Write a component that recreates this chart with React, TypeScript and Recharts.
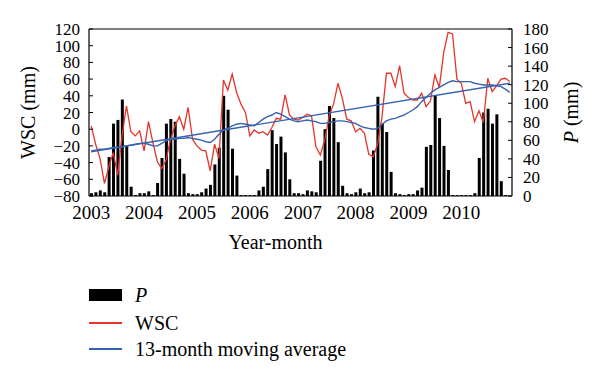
import {
  ComposedChart,
  Bar,
  Line,
  XAxis,
  YAxis,
  ReferenceLine,
} from "recharts";

const years = [2003, 2004, 2005, 2006, 2007, 2008, 2009, 2010];

// monthly precipitation P (mm), right axis
const pValues = [
  3, 4, 6, 4, 42, 78, 82, 104, 54, 10, 1, 3,
  3, 5, 1, 14, 41, 78, 83, 80, 40, 24, 3, 2,
  2, 4, 8, 12, 34, 52, 108, 93, 51, 22, 1, 1,
  1, 1, 6, 10, 29, 71, 56, 64, 47, 18, 3, 3,
  2, 6, 5, 4, 38, 72, 97, 84, 58, 11, 3, 2,
  4, 8, 3, 4, 49, 107, 78, 69, 26, 3, 2, 1,
  2, 2, 6, 9, 53, 55, 108, 84, 54, 28, 1, 1,
  1, 1, 1, 3, 41, 90, 94, 78, 88, 16, 1, 0,
];

// WSC (mm), left axis
const wscValues = [
  4, -18, -35, -65, -45, -28, -55, -8, 28, -3, -8, -2,
  -26, 9, -16, -39, -47, -37, -12, 4, 15, 0, 26, -12,
  -20, -25, -26, -50, -18, -35, 59, 47, 66, 44, 30, 20,
  -8, -1, -5, -3, -7, 2, 13, 12, 41, 17, 12, 11,
  14, 18, 16, -21, -31, -13, 16, 30, 55, 37, 12, 10,
  -3, 1, -5, -30, -33, -18, 15, 67, 67, 51, 76, 43,
  38, 35, 35, 43, 27, 34, 65, 50, 92, 116, 114, 60,
  55, 31, 33, 9, 22, 8, 61, 45, 52, 60, 61, 57,
];

// 13-month moving average of WSC
const maValues = [
  -26, -25, -24, -24, -23, -22, -22, -21, -20, -19, -18, -17,
  -17, -18, -20, -20, -17, -14, -12, -12, -11, -11, -10, -11,
  -12, -13, -15, -16, -12, -6, -1, 1, 4, 6, 7, 6,
  5, 4, 8, 12, 15, 17, 20, 18, 15, 12, 10, 9,
  10, 11, 10, 9, 7, 7, 8, 9, 10, 10, 9, 8,
  7, 4, 2, 1, 0, 1, 6, 10, 12, 13, 15, 17,
  20, 23, 27, 33, 38, 43, 47, 50, 53, 56, 58, 57,
  57, 57, 57, 55, 54, 53, 53, 53, 52, 51, 48, 44,
];

// straight trend line, first and last month
const trendStart = -27;
const trendEnd = 55;

const wscTicks = [-80, -60, -40, -20, 0, 20, 40, 60, 80, 100, 120];
const pTicks = [0, 20, 40, 60, 80, 100, 120, 140, 160, 180];

const months = years.flatMap((y) =>
  Array.from({ length: 12 }, (_, m) => `${y}-${String(m + 1).padStart(2, "0")}`)
);
const yearTicks = years.map((y) => `${y}-01`);

const data = months.map((month, i) => ({
  month,
  p: pValues[i],
  wsc: wscValues[i],
  ma: maValues[i],
  trend: i === 0 ? trendStart : i === months.length - 1 ? trendEnd : null,
}));

const FONT = "'Liberation Serif', 'Times New Roman', serif";
const RED = "#e5342c";
const BLUE = "#3762b0";

const fmtWsc = (v: number) => (v < 0 ? `\u2212${Math.abs(v)}` : `${v}`);

function RotLabel({ viewBox, x0, italic, rest }: any) {
  const cy = viewBox ? viewBox.y + viewBox.height / 2 : 104;
  return (
    <text
      x={x0}
      y={cy}
      transform={`rotate(-90, ${x0}, ${cy})`}
      textAnchor="middle"
      dominantBaseline="central"
      fontFamily={FONT}
      fontSize={20}
      fill="#000"
    >
      {italic && <tspan fontStyle="italic">{italic}</tspan>}
      <tspan>{rest}</tspan>
    </text>
  );
}

function LegendRow({ top, kind, color, label, italic }: any) {
  return (
    <div style={{ position: "absolute", left: 81, top, height: 20, display: "flex", alignItems: "center" }}>
      {kind === "bar" ? (
        <div style={{ width: 33, height: 12, background: color }} />
      ) : (
        <div style={{ width: 33, height: 1.5, background: color }} />
      )}
      <span
        style={{
          marginLeft: 13,
          fontFamily: FONT,
          fontSize: 20,
          fontStyle: italic ? "italic" : "normal",
          color: "#000",
          whiteSpace: "nowrap",
        }}
      >
        {label}
      </span>
    </div>
  );
}

export default function App() {
  return (
    <div style={{ position: "relative", width: 584, height: 365 }}>
      <ComposedChart
        width={584}
        height={260}
        data={data}
        margin={{ top: 21, right: 0, bottom: 42, left: 0 }}
        barCategoryGap={1}
      >
        <XAxis
          dataKey="month"
          ticks={yearTicks}
          interval={0}
          tickFormatter={(v: string) => v.slice(0, 4)}
          tickLine={false}
          tickSize={0}
          tickMargin={10}
          height={30}
          axisLine={{ stroke: "#000", strokeWidth: 1.2 }}
          tick={{ fill: "#000", fontSize: 19, fontFamily: FONT }}
          label={{
            value: "Year-month",
            position: "bottom",
            offset: 9,
            dx: -25,
            style: { fill: "#000", fontSize: 20, fontFamily: FONT },
          }}
        />
        <YAxis
          yAxisId="left"
          domain={[-80, 120]}
          ticks={wscTicks}
          interval={0}
          width={81}
          tickSize={-4}
          tickMargin={13}
          tickFormatter={fmtWsc}
          axisLine={{ stroke: "#000", strokeWidth: 1.2 }}
          tickLine={{ stroke: "#000" }}
          tick={{ fill: "#000", fontSize: 17, fontFamily: FONT }}
          label={<RotLabel x0={20} rest="WSC (mm)" />}
        />
        <YAxis
          yAxisId="right"
          orientation="right"
          domain={[0, 180]}
          ticks={pTicks}
          interval={0}
          width={80}
          tickSize={-4}
          tickMargin={15}
          axisLine={{ stroke: "#000", strokeWidth: 1.2 }}
          tickLine={{ stroke: "#000" }}
          tick={{ fill: "#000", fontSize: 17, fontFamily: FONT, textAnchor: "start" }}
          label={<RotLabel x0={563} italic="P" rest=" (mm)" />}
        />
        <ReferenceLine yAxisId="left" y={120} stroke="#000" strokeWidth={1.2} />
        <Bar yAxisId="right" dataKey="p" fill="#000" barSize={3} isAnimationActive={false} />
        <Line
          yAxisId="left"
          dataKey="wsc"
          stroke={RED}
          strokeWidth={1.3}
          dot={false}
          isAnimationActive={false}
        />
        <Line
          yAxisId="left"
          dataKey="ma"
          stroke={BLUE}
          strokeWidth={1.4}
          dot={false}
          isAnimationActive={false}
        />
        <Line
          yAxisId="left"
          dataKey="trend"
          stroke={BLUE}
          strokeWidth={1.4}
          dot={false}
          connectNulls
          legendType="none"
          isAnimationActive={false}
        />
      </ComposedChart>
      <LegendRow top={277} kind="bar" color="#000" label="P" italic />
      <LegendRow top={305} kind="line" color={RED} label="WSC" />
      <LegendRow top={331} kind="line" color={BLUE} label="13-month moving average" />
    </div>
  );
}
